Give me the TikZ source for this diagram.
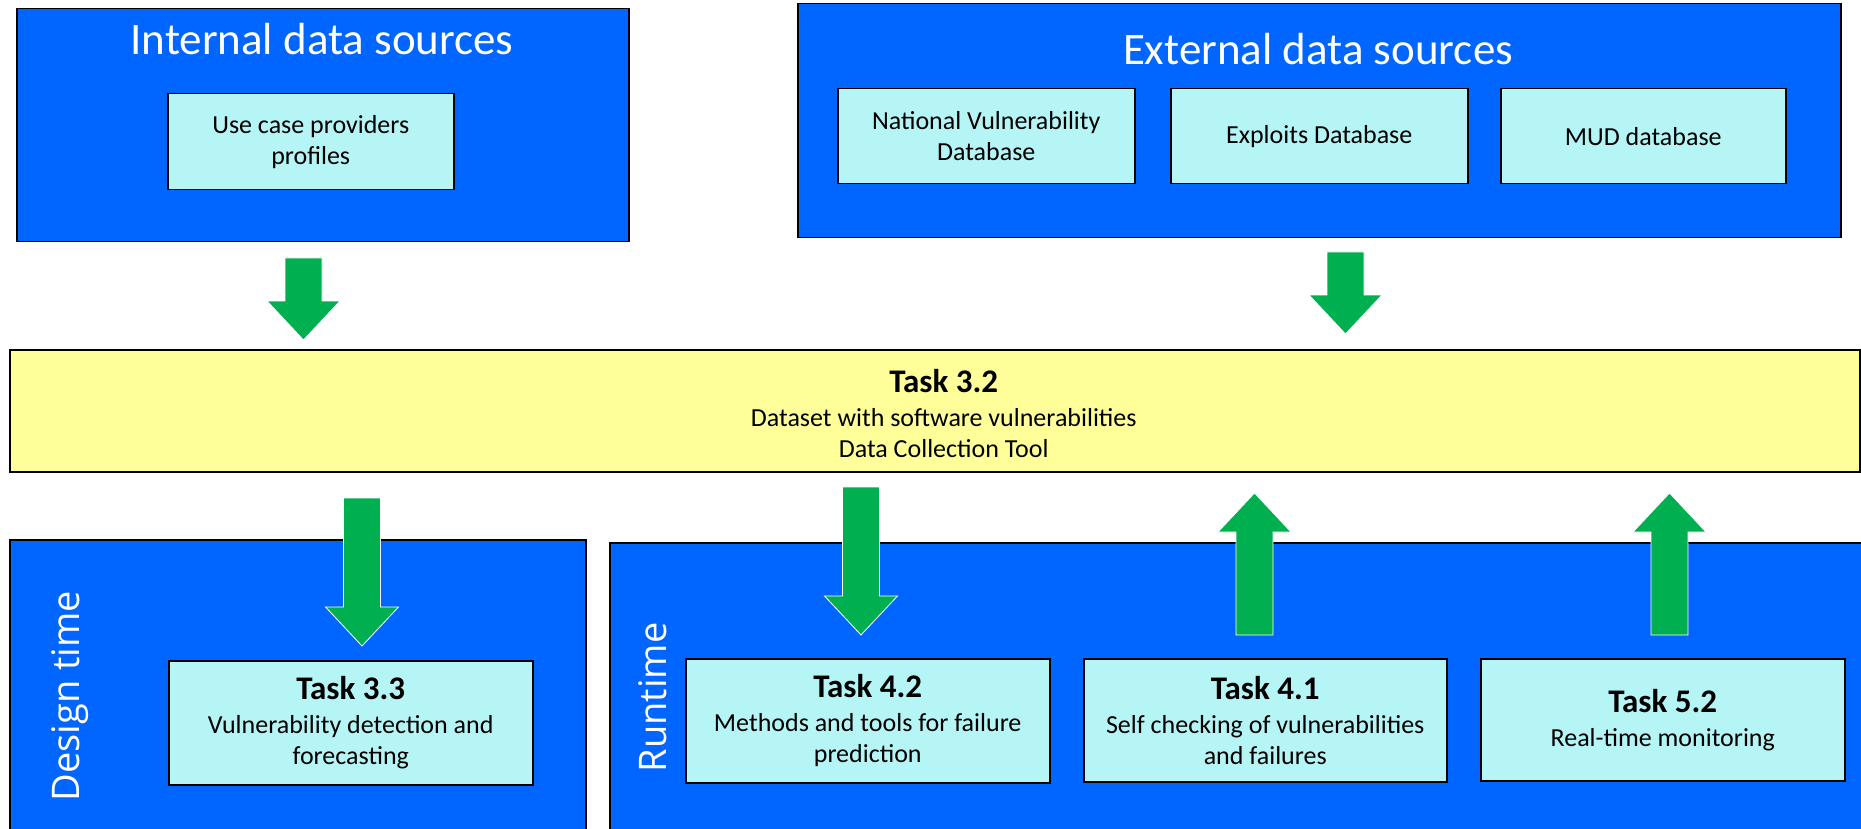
\documentclass[tikz,border=0pt]{standalone}
\usepackage{fontspec}
\setmainfont{Carlito}
\newfontfamily\phasefont{Open Sans}

\definecolor{groupblue}{RGB}{0,102,255}
\definecolor{itemcyan}{RGB}{182,245,246}
\definecolor{bandyellow}{RGB}{255,255,153}
\definecolor{flowgreen}{RGB}{0,176,80}

% Block arrow: x of the axis, y of the tail, y of the tip
\newcommand\blockarrow[3]{%
  \pgfmathsetmacro\headbase{#3-39*sign(#3-#2)}%
  \filldraw[flow] (#1-18.5,#2) -- (#1+18.5,#2) -- (#1+18.5,\headbase)
    -- (#1+36.5,\headbase) -- (#1,#3) -- (#1-36.5,\headbase)
    -- (#1-18.5,\headbase) -- cycle;}

% Bold task number heading inside a box
\newcommand\tasktitle[1]{{\fontsize{33}{31}\selectfont\bfseries #1}}

\begin{document}
\begin{tikzpicture}[x=1pt,y=-1pt,
  group/.style={draw=black, line width=1.5pt, fill=groupblue, anchor=north west, inner sep=0pt},
  item/.style={draw=black, line width=1.5pt, fill=itemcyan, anchor=north west,
    align=center, inner sep=0pt, font=\fontsize{26}{31}\selectfont},
  band/.style={draw=black, line width=1.5pt, fill=bandyellow, anchor=north west, inner sep=0pt},
  bandtext/.style={align=center, inner sep=0pt, font=\fontsize{26}{31}\selectfont},
  heading/.style={text=white, anchor=base, inner sep=0pt, font=\fontsize{45}{50}\selectfont},
  phase/.style={text=white, anchor=base, inner sep=0pt, rotate=90,
    font=\phasefont\fontsize{38}{44}\selectfont},
  flow/.style={fill=flowgreen, draw=white, line width=0.8pt, line join=miter},
]
\useasboundingbox (0,0) rectangle (1861,829);
\clip (0,0) rectangle (1861,829);

% data source groups
\node[group, minimum width=612pt, minimum height=233pt] (internal) at (16,8) {};
\node[heading] (internaltitle) at (322,55) {Internal data sources};
\node[group, minimum width=1043pt, minimum height=234pt] (external) at (797,3) {};
\node[heading] (externaltitle) at (1318,65) {External data sources};

% central task band
\node[band, minimum width=1850pt, minimum height=122pt] (task32) at (9,349) {};
\node[bandtext] (task32text) at ([xshift=9pt,yshift=-3pt]task32.center)
  {\tasktitle{Task 3.2}\\[3pt]
   Dataset with software vulnerabilities\\ Data Collection Tool};

% phase groups
\node[group, minimum width=576pt, minimum height=320pt] (design) at (9,539) {};
\node[phase] (designlabel) at (79,696) {Design time};
\node[group, minimum width=1270pt, minimum height=320pt] (runtime) at (609,542) {};
\node[phase] (runtimelabel) at (666,697.5) {Runtime};

% flows between the levels
\blockarrow{303.5}{258}{340}
\blockarrow{1345.5}{252}{334}
\blockarrow{362}{498}{646}
\blockarrow{861}{487}{635}
\blockarrow{1254.5}{635}{493}
\blockarrow{1669.5}{635}{493}

% source items
\node[item, minimum width=286pt, minimum height=96pt] (usecase) at (167,93)
  {Use case providers\\ profiles};
\node[item, minimum width=297pt, minimum height=95pt] (nvd) at (837,88)
  {National Vulnerability\\ Database};
\node[item, minimum width=297pt, minimum height=95pt] (exploits) at (1170,88)
  {Exploits Database};
\node[item, minimum width=285pt, minimum height=95pt] (mud) at (1500,88)
  {MUD database};

% task items
\node[item, minimum width=364pt, minimum height=124pt] (task33) at (168,660)
  {\tasktitle{Task 3.3}\\[3pt]
   Vulnerability detection and\\ forecasting};
\node[item, minimum width=364pt, minimum height=124pt] (task42) at (685,658)
  {\tasktitle{Task 4.2}\\[3pt]
   Methods and tools for failure\\ prediction};
\node[item, minimum width=363pt, minimum height=123pt] (task41) at (1083,658)
  {\tasktitle{Task 4.1}\\[3pt]
   Self checking of vulnerabilities\\ and failures};
\node[item, minimum width=364pt, minimum height=122pt] (task52) at (1480,658)
  {\tasktitle{Task 5.2}\\[3pt]
   Real-time monitoring};
\end{tikzpicture}
\end{document}
